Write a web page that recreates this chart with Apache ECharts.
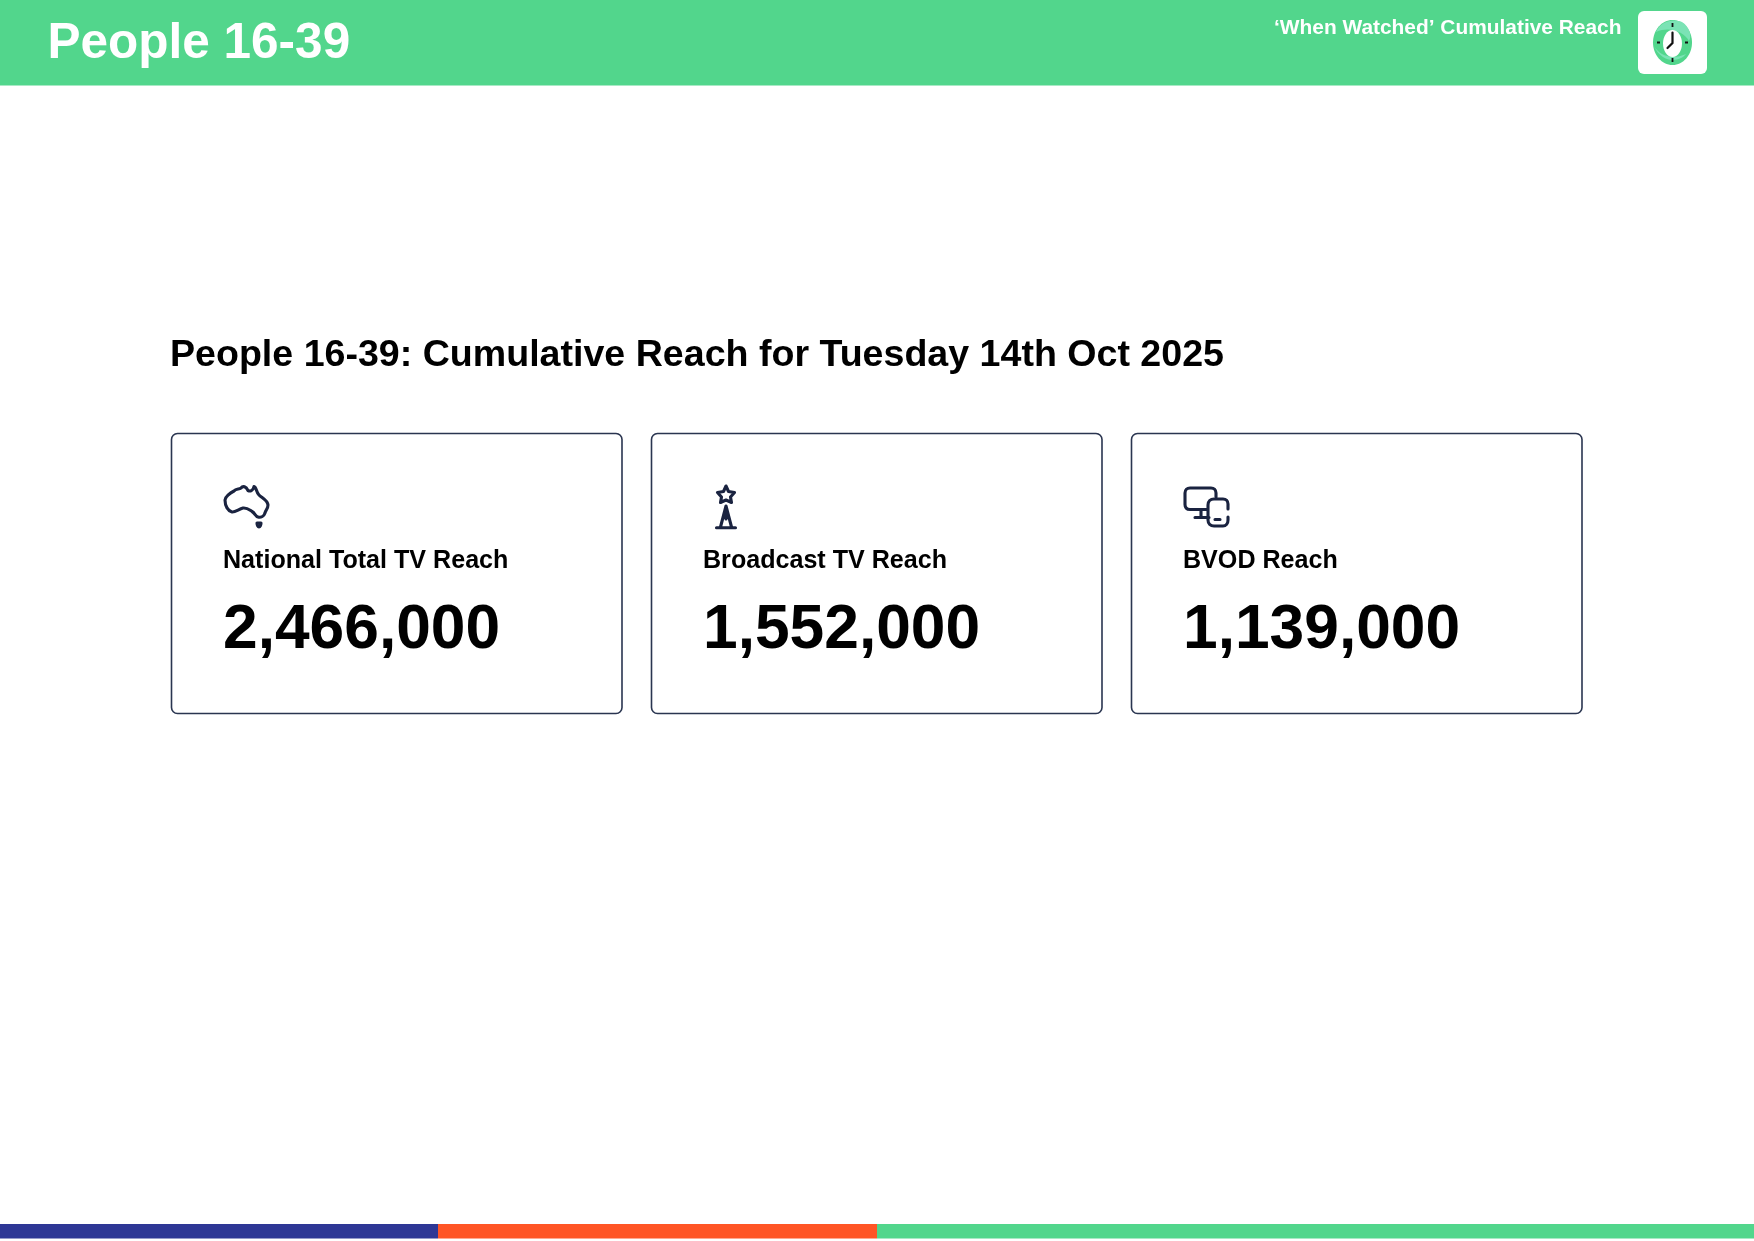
<!DOCTYPE html>
<html><head><meta charset="utf-8">
<style>html,body{margin:0;padding:0;background:#fff}#c{width:1754px;height:1241px}</style>
<script src="https://cdn.jsdelivr.net/npm/echarts@6/dist/echarts.min.js"></script>
</head><body><div id="c"></div>
<script>
const pageTitle = "People 16-39";
const headerRight = "\u2018When Watched\u2019 Cumulative Reach";
const heading = "People 16-39: Cumulative Reach for Tuesday 14th Oct 2025";
const cardLabels = ["National Total TV Reach", "Broadcast TV Reach", "BVOD Reach"];
const cardValues = [2466000, 1552000, 1139000];

const GREEN = "#52d68c", BLUE = "#2e3795", ORANGE = "#ff5526", NAVY = "#1a2340";
const FONT = '"Liberation Sans", Arial, sans-serif';
const ausIcon = "M2 17 C2 14 7 10 11 8 C13 5.5 16 6.5 18 5 C20 2.5 23 3.5 25 7.5 C27 8.5 30 8 31 3.5 C33.5 4 33 9 36 12 C39 15 44.5 17 45 22 C45 26 42.5 27 42 30 C41 33 38 35 35 34 C32.5 33.5 32 30 29 28.5 C26 26.5 24 24.5 20 25 C16 26 12 29.5 9 29 C5 28 2 23 2 17 Z M34 40 L38 40 C38 42 37 44 36 44 C35 44 34 42 34 40 Z";
const towerIcon = "M24 7 L26.5 12.5 L32.5 13.5 L28.5 18 L29.5 23.5 L24 21 L18.5 23.5 L19.5 18 L15.5 13.5 L21.5 12.5 Z M24 27 L18.5 48 M24 27 L29.5 48 M24 34 L24 40 M14.5 48.7 L33.5 48.7";
const devIcon = "M26 24.5 L8 24.5 C4.5 24.5 3 22.5 3 19.5 L3 8 C3 5 5 3 8 3 L29 3 C32 3 34 5 34 8 L34 12 M13 32.5 L27 32.5 M19 25 L19 32 M33 14 L41 14 C44 14 46 16 46 19 L46 24 M46 32 L46 35 C46 38.5 44 41 41 41 L32 41 C28.5 41 26 38.5 26 35 L26 20 C26 16.5 28.5 14 32 14 M33 34.5 L38 34.5";
const icons = [
  { d: ausIcon, dx: -1, dy: 0 },
  { d: towerIcon, dx: -2, dy: -4 },
  { d: devIcon, dx: -2, dy: 2 }
];
const cardX = [172, 652, 1132];

function text(t, x, y, size, fill) {
  return { type: "text", x, y, silent: true, style: {
    text: t, fill, font: "bold " + size + "px " + FONT, align: "left", verticalAlign: "bottom"
  }};
}
function rect(x, y, w, h, fill, r) {
  return { type: "rect", silent: true, shape: { x, y, width: w, height: h, r: r || 0 }, style: { fill } };
}
function renderPage() {
  const ch = [
    rect(0, 0, 1754, 85.5, GREEN),
    text(pageTitle, 47.5, 69, 49.5, "#fff"),
    text(headerRight, 1274, 39, 20.9, "#fff"),
    rect(1638, 11, 69, 63, "#fff", 6),
    { type: "ellipse", shape: { cx: 1672.5, cy: 42.5, rx: 19.5, ry: 22.5 }, style: { fill: GREEN } },
    { type: "path", shape: { pathData: "M1656 32 C1660 22 1672 18 1682 22 C1690 27 1692 36 1689 41 C1684 32 1670 26 1656 32 Z M1654 46 C1660 56 1672 60 1686 54 C1680 62 1662 64 1654 46 Z" }, style: { fill: "#7be3b5" } },
    { type: "ellipse", shape: { cx: 1672.5, cy: 43.5, rx: 9.5, ry: 13.5 }, style: { fill: "#fff" } },
    { type: "path", shape: { pathData: "M1672.5 23 L1672.5 27 M1672.5 58 L1672.5 62 M1657 42.5 L1660 42.5 M1685 42.5 L1688 42.5" }, style: { stroke: "#111", lineWidth: 1.8, fill: null } },
    { type: "path", shape: { pathData: "M1672.5 32.5 L1672.5 43 L1667.5 48" }, style: { stroke: "#111", lineWidth: 2.2, fill: null, lineCap: "round" } },
    text(heading, 170, 375, 37.6, "#000"),
    rect(0, 1224, 438, 14.5, BLUE),
    rect(438, 1224, 439, 14.5, ORANGE),
    rect(877, 1224, 877, 14.5, GREEN)
  ];
  return { type: "group", children: ch };
}
function renderCard(params) {
  const i = params.dataIndex, x = cardX[i];
  return { type: "group", children: [
    { type: "rect", shape: { x: x - 0.5, y: 433.5, width: 450.5, height: 280, r: 6 }, style: { fill: "#fff", stroke: "#2a3550", lineWidth: 1.6 } },
    { type: "path", x: x + 52 + icons[i].dx, y: 483 + icons[i].dy, shape: { pathData: icons[i].d }, style: { stroke: NAVY, lineWidth: 3.1, fill: null, lineCap: "round", lineJoin: "round" } },
    text(cardLabels[i], x + 51, 574, 25.1, "#000"),
    text(cardValues[i].toLocaleString("en-US"), x + 51, 661.5, 62.3, "#000")
  ]};
}

const chart = echarts.init(document.getElementById("c"), null, { renderer: "canvas" });
chart.setOption({
  animation: false,
  backgroundColor: "#fff",
  series: [
    { type: "custom", coordinateSystem: "none", silent: true, data: [0], renderItem: renderPage },
    { type: "custom", coordinateSystem: "none", silent: true, data: cardValues, renderItem: renderCard }
  ]
});
</script></body></html>
